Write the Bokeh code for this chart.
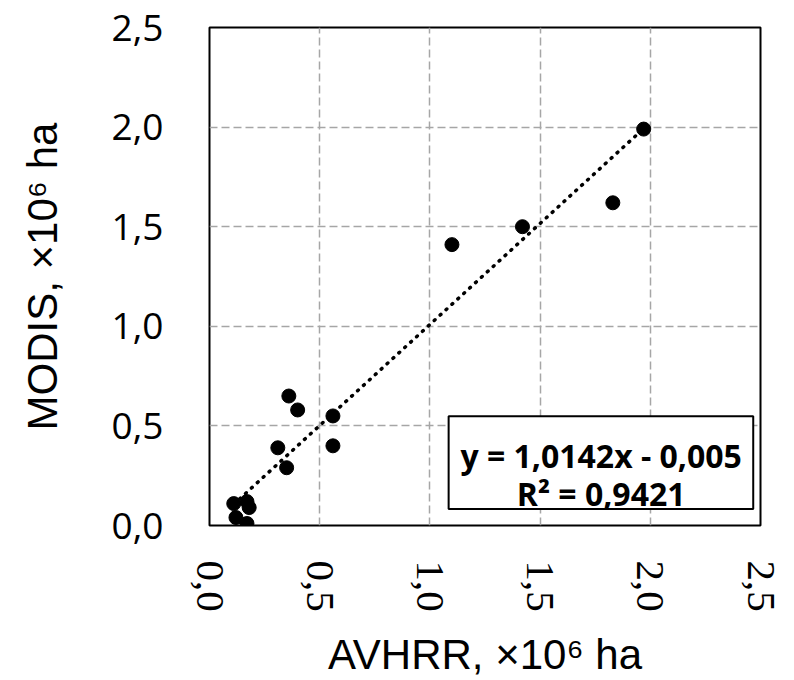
import numpy as np
from bokeh.plotting import figure
from bokeh.models import FixedTicker, CustomJSTickFormatter, BoxAnnotation, Label
from bokeh.embed import file_html
from bokeh.resources import INLINE

# Data
avhrr = [1.97, 1.83, 1.42, 1.10, 0.36, 0.40, 0.56, 0.56, 0.31, 0.35, 0.11, 0.17, 0.18, 0.12, 0.17]
modis = [1.99, 1.62, 1.50, 1.41, 0.65, 0.58, 0.55, 0.40, 0.39, 0.29, 0.11, 0.12, 0.09, 0.04, 0.01]
slope = 1.0142
intercept = -0.005
r2 = 0.9421
ticks = [0.0, 0.5, 1.0, 1.5, 2.0, 2.5]
eq_line1 = "y = 1,0142x - 0,005"
eq_line2 = "R\u00b2 = 0,9421"
x_title = "AVHRR, \u00d710\u2076 ha"
y_title = "MODIS, \u00d710\u2076 ha"

p = figure(width=794, height=680, output_backend="svg", toolbar_location=None,
           x_range=(0, 2.5), y_range=(0, 2.5),
           min_border_left=209, min_border_right=34, min_border_top=27, min_border_bottom=155)
p.background_fill_color = "white"
p.border_fill_color = "white"
p.outline_line_color = "black"
p.outline_line_width = 2

fmt = CustomJSTickFormatter(code="return tick.toFixed(1).replace('.', ',');")
for ax in (p.xaxis[0], p.yaxis[0]):
    ax.ticker = FixedTicker(ticks=ticks)
    ax.formatter = fmt
    ax.axis_line_color = None
    ax.major_tick_line_color = None
    ax.minor_tick_line_color = None
    ax.major_tick_out = 0
    ax.major_tick_in = 0
    ax.major_label_text_color = "black"
    ax.axis_label_text_font = "Liberation Sans"
    ax.axis_label_text_font_size = "42px"
    ax.axis_label_text_font_style = "normal"
    ax.axis_label_text_color = "black"
    ax.axis_label_text_line_height = 0.9

p.yaxis.major_label_text_font = "Open Sans"
p.yaxis.major_label_text_font_size = "37px"
p.yaxis.major_label_standoff = 46
p.yaxis.axis_label = y_title
p.yaxis.axis_label_standoff = 43

p.xaxis.major_label_text_font = "Liberation Sans Narrow"
p.xaxis.major_label_text_font_size = "41px"
p.xaxis.major_label_orientation = "vertical"
p.xaxis.major_label_standoff = 35
p.xaxis.axis_label = x_title
p.xaxis.axis_label_standoff = 16

for g in (p.xgrid[0], p.ygrid[0]):
    g.ticker = FixedTicker(ticks=ticks)
    g.grid_line_color = "#A6A6A6"
    g.grid_line_width = 1.5
    g.grid_line_dash = "8 4"

# trendline
xs = np.array([min(avhrr), max(avhrr)])
p.line(xs, slope * xs + intercept, line_color="black", line_width=3.5,
       line_dash="1 7", line_cap="round")

p.scatter(avhrr, modis, size=14, fill_color="black", line_color="black")

# equation box
box = BoxAnnotation(left=1.085, right=2.467, bottom=0.0825, top=0.549,
                    fill_color="white", fill_alpha=1.0, line_color="black",
                    line_alpha=1.0, line_width=2)
p.add_layout(box)
for txt, yv in ((eq_line1, 0.3525), (eq_line2, 0.1625)):
    p.add_layout(Label(x=1.777, y=yv, text=txt, text_align="center", text_baseline="alphabetic",
                       text_font="Open Sans", text_font_style="bold", text_font_size="32px",
                       text_color="black"))

open("out.html", "w").write(file_html(p, INLINE))
